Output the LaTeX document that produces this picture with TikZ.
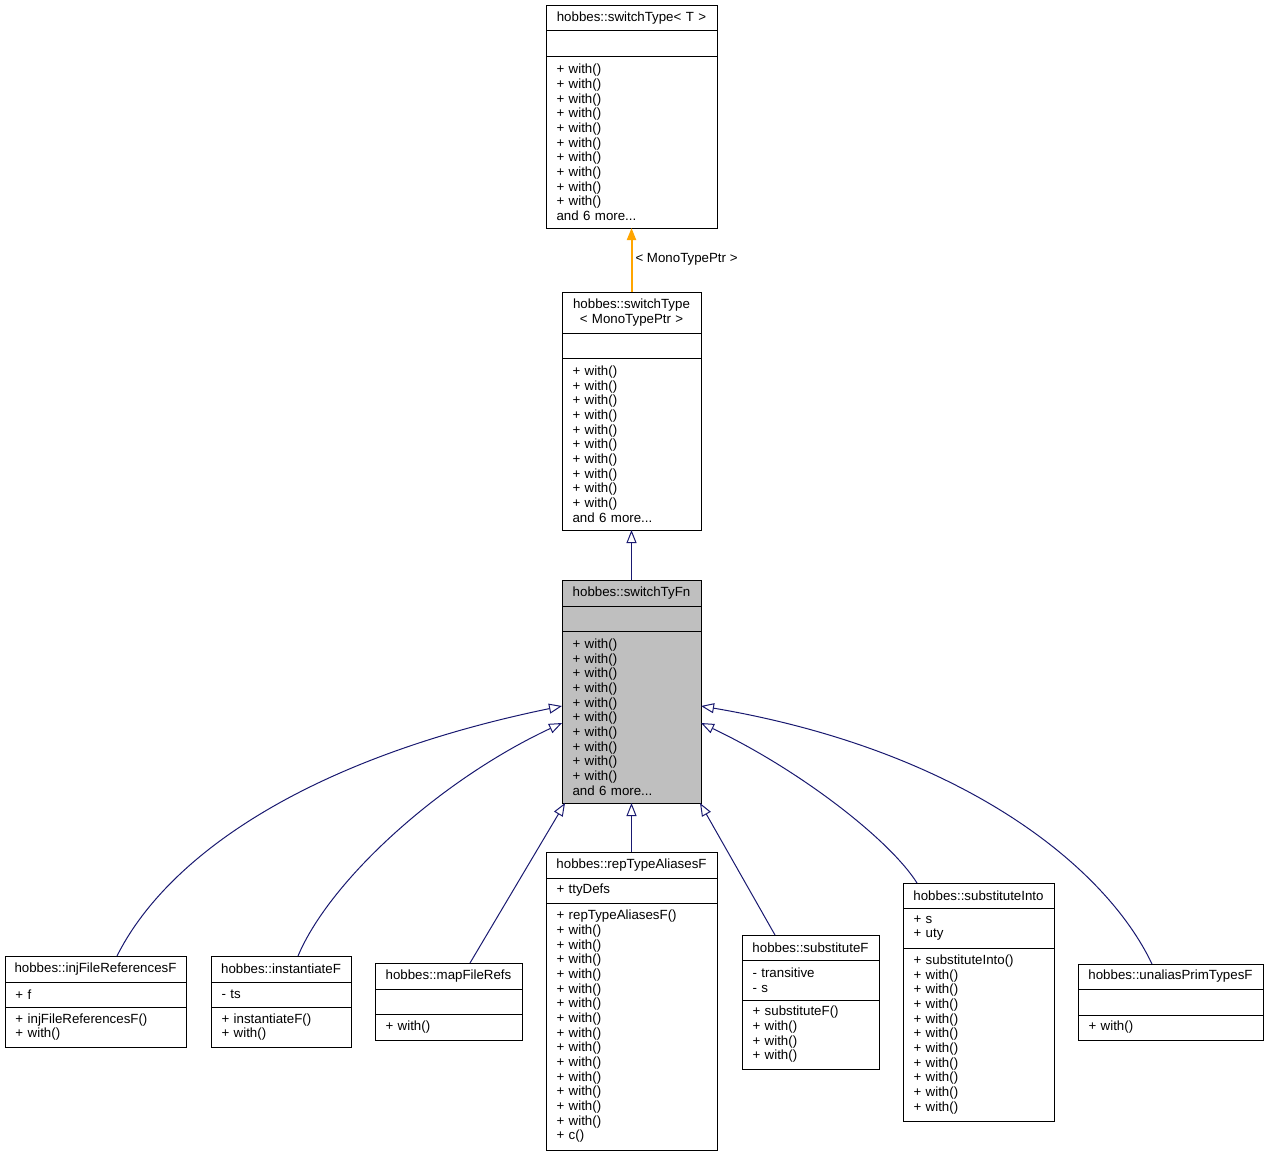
\documentclass[tikz,border=0pt]{standalone}
\usepackage{fontspec}
\setmainfont{Liberation Sans}
\usetikzlibrary{positioning}
\usetikzlibrary{arrows.meta}
\definecolor{edgeblue}{HTML}{191970}
\definecolor{edgeorange}{HTML}{FFA500}
\definecolor{focusgray}{HTML}{BFBFBF}
\newcommand{\umlfont}{\fontsize{13.3}{14.67}\selectfont}
\tikzset{class head/.style={draw, line width=1pt, fill=white, outer sep=0pt, inner xsep=3pt, inner ysep=0pt, align=center, font=\umlfont},}
\tikzset{class part/.style={draw, line width=1pt, fill=white, outer sep=0pt, inner xsep=10.5pt, inner ysep=0pt, align=left, font=\umlfont},}
\tikzset{inherit edge/.style={draw=edgeblue, line width=1pt, -{Triangle[length=13pt, width=10pt, fill=white]}},}
\tikzset{template edge/.style={color=edgeorange, line width=2pt, -{Triangle[length=12pt, width=9pt, fill=edgeorange]}},}

\begin{document}
\begin{tikzpicture}[x=1pt, y=-1pt]
  \useasboundingbox (0,0) rectangle (1268,1156);

  % template base
  \node[class head, text width=165pt, minimum height=25pt, anchor=north west] (st head) at (546,6) {hobbes::switchType< T >};
  \node[class part, text width=150pt, minimum height=26pt] (st attr) [below=0pt of st head] {};
  \node[class part, text width=150pt, minimum height=171pt] (st ops) [below=0pt of st attr]
    {+ with()\\+ with()\\+ with()\\+ with()\\+ with()\\+ with()\\+ with()\\+ with()\\+ with()\\+ with()\\and 6 more...};

  % instantiation
  \node[class head, text width=133pt, minimum height=41pt, anchor=north west] (mono head) at (562,292) {hobbes::switchType\\< MonoTypePtr >};
  \node[class part, text width=118pt, minimum height=25pt] (mono attr) [below=0pt of mono head] {};
  \node[class part, text width=118pt, minimum height=172pt] (mono ops) [below=0pt of mono attr]
    {+ with()\\+ with()\\+ with()\\+ with()\\+ with()\\+ with()\\+ with()\\+ with()\\+ with()\\+ with()\\and 6 more...};

  % the documented class
  \node[class head, fill=focusgray, text width=133pt, minimum height=26pt, anchor=north west] (fn head) at (562,580) {hobbes::switchTyFn};
  \node[class part, fill=focusgray, text width=118pt, minimum height=25pt] (fn attr) [below=0pt of fn head] {};
  \node[class part, fill=focusgray, text width=118pt, minimum height=172pt] (fn ops) [below=0pt of fn attr]
    {+ with()\\+ with()\\+ with()\\+ with()\\+ with()\\+ with()\\+ with()\\+ with()\\+ with()\\+ with()\\and 6 more...};

  % derived classes
  \node[class head, text width=175pt, minimum height=26pt, anchor=north west] (inj head) at (5,956) {hobbes::injFileReferencesF};
  \node[class part, text width=160pt, minimum height=25pt] (inj attr) [below=0pt of inj head] {+ f};
  \node[class part, text width=160pt, minimum height=40pt] (inj ops) [below=0pt of inj attr] {+ injFileReferencesF()\\+ with()};

  \node[class head, text width=134pt, minimum height=26pt, anchor=north west] (inst head) at (211,956) {hobbes::instantiateF};
  \node[class part, text width=119pt, minimum height=25pt] (inst attr) [below=0pt of inst head] {- ts};
  \node[class part, text width=119pt, minimum height=40pt] (inst ops) [below=0pt of inst attr] {+ instantiateF()\\+ with()};

  \node[class head, text width=141pt, minimum height=26pt, anchor=north west] (map head) at (375,963) {hobbes::mapFileRefs};
  \node[class part, text width=126pt, minimum height=25pt] (map attr) [below=0pt of map head] {};
  \node[class part, text width=126pt, minimum height=26pt] (map ops) [below=0pt of map attr] {+ with()};

  \node[class head, text width=165pt, minimum height=26pt, anchor=north west] (rep head) at (546,852) {hobbes::repTypeAliasesF};
  \node[class part, text width=150pt, minimum height=25pt] (rep attr) [below=0pt of rep head] {+ ttyDefs};
  \node[class part, text width=150pt, minimum height=247pt] (rep ops) [below=0pt of rep attr]
    {+ repTypeAliasesF()\\+ with()\\+ with()\\+ with()\\+ with()\\+ with()\\+ with()\\+ with()\\+ with()\\+ with()\\+ with()\\+ with()\\+ with()\\+ with()\\+ with()\\+ c()};

  \node[class head, text width=131pt, minimum height=25pt, anchor=north west] (subf head) at (742,935) {hobbes::substituteF};
  \node[class part, text width=116pt, minimum height=40pt] (subf attr) [below=0pt of subf head] {- transitive\\- s};
  \node[class part, text width=116pt, minimum height=69pt] (subf ops) [below=0pt of subf attr] {+ substituteF()\\+ with()\\+ with()\\+ with()};

  \node[class head, text width=145pt, minimum height=25pt, anchor=north west] (subi head) at (903,883) {hobbes::substituteInto};
  \node[class part, text width=130pt, minimum height=40pt] (subi attr) [below=0pt of subi head] {+ s\\+ uty};
  \node[class part, text width=130pt, minimum height=173pt] (subi ops) [below=0pt of subi attr]
    {+ substituteInto()\\+ with()\\+ with()\\+ with()\\+ with()\\+ with()\\+ with()\\+ with()\\+ with()\\+ with()\\+ with()};

  \node[class head, text width=179pt, minimum height=25pt, anchor=north west] (unal head) at (1078,964) {hobbes::unaliasPrimTypesF};
  \node[class part, text width=164pt, minimum height=26pt] (unal attr) [below=0pt of unal head] {};
  \node[class part, text width=164pt, minimum height=25pt] (unal ops) [below=0pt of unal attr] {+ with()};

  % edges
  \node[font=\umlfont, anchor=west] (mono label) at (632,259) {< MonoTypePtr >};
  \draw[template edge] (mono head.north) -- (st ops.south);
  \draw[inherit edge] (fn head.north) -- (mono ops.south);
  \draw[inherit edge] (rep head.north) -- (fn ops.south);
  \draw[inherit edge] ([xshift=21.5pt]map head.north) -- ([xshift=3pt]fn ops.south west);
  \draw[inherit edge] ([xshift=-35.5pt]subf head.north) -- ([xshift=-1pt]fn ops.south east);
  \draw[inherit edge] ([xshift=21.5pt]inj head.north) .. controls (165,860) and (300,760) .. ([yshift=11pt]fn ops.west);
  \draw[inherit edge] ([xshift=17pt]inst head.north) .. controls (330,880) and (440,780) .. ([yshift=-6pt]fn ops.west);
  \draw[inherit edge] ([xshift=-61.5pt]subi head.north) .. controls (890,840) and (800,770) .. ([yshift=-6pt]fn ops.east);
  \draw[inherit edge] ([xshift=-18.5pt]unal head.north) .. controls (1105,865) and (960,750) .. ([yshift=11pt]fn ops.east);
\end{tikzpicture}
\end{document}
